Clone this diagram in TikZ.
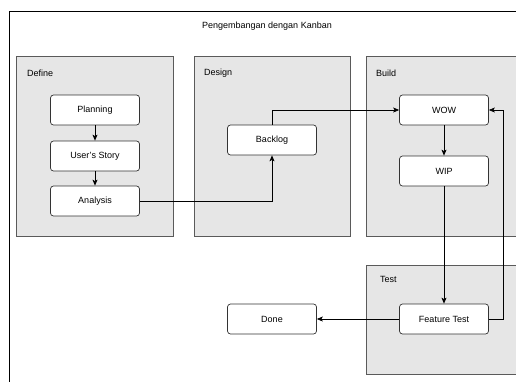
\documentclass[tikz,border=0pt]{standalone}
\usepackage{fontspec}
\setmainfont{Liberation Sans}
\usetikzlibrary{arrows.meta}
\definecolor{grpfill}{HTML}{E6E6E6}
\definecolor{grpline}{HTML}{5A5A5A}
\definecolor{boxline}{HTML}{333333}
\begin{document}
\begin{tikzpicture}[x=1pt,y=-1pt,
  grp/.style={draw=grpline,fill=grpfill,line width=0.8pt},
  grplabel/.style={anchor=west,inner sep=0pt,font=\fontsize{9}{10}\selectfont},
  card/.style={draw=boxline,fill=white,rounded corners=3pt,line width=0.7pt,
    minimum width=89pt,minimum height=30pt,inner sep=0pt,font=\fontsize{9}{10}\selectfont},
  conn/.style={draw=black,line width=0.7pt,-{Stealth[length=6pt,width=5pt,inset=1.5pt]}}]
\useasboundingbox (0,0) rectangle (516,381);
\begin{scope}
\clip (0,0) rectangle (516,381);
\draw[black,line width=0.8pt] (9,11) rectangle (540,400);
\draw[grp] (16,56) rectangle (173,236);
\draw[grp] (194,56) rectangle (350,236);
\draw[grp] (366,56) rectangle (540,236);
\draw[grp] (366,265) rectangle (540,374);
\end{scope}
\node[font=\fontsize{9}{10}\selectfont] (title) at (267,26) {Pengembangan dengan Kanban};
\node[grplabel] (ldefine) at (27,73) {Define};
\node[grplabel] (ldesign) at (204,73) {Design};
\node[grplabel] (lbuild) at (376,73) {Build};
\node[grplabel] (ltest) at (380,279) {Test};
\node[card] (planning) at (95,110) {Planning};
\node[card] (story) at (95,156) {User's Story};
\node[card] (analysis) at (95,201) {Analysis};
\node[card] (backlog) at (272,140) {Backlog};
\node[card] (wow) at (444,110) {WOW};
\node[card] (wip) at (444,171) {WIP};
\node[card] (ft) at (444,319) {Feature Test};
\node[card] (done) at (272,319) {Done};
\coordinate (turn) at (503,0);
\draw[conn] (planning) -- (story);
\draw[conn] (story) -- (analysis);
\draw[conn] (analysis.east) -| (backlog.south);
\draw[conn] (backlog.north) |- (wow.west);
\draw[conn] (wow) -- (wip);
\draw[conn] (wip) -- (ft);
\draw[conn] (ft.east) -- (ft.east -| turn) |- (wow.east);
\draw[conn] (ft.west) -- (done.east);
\end{tikzpicture}
\end{document}
